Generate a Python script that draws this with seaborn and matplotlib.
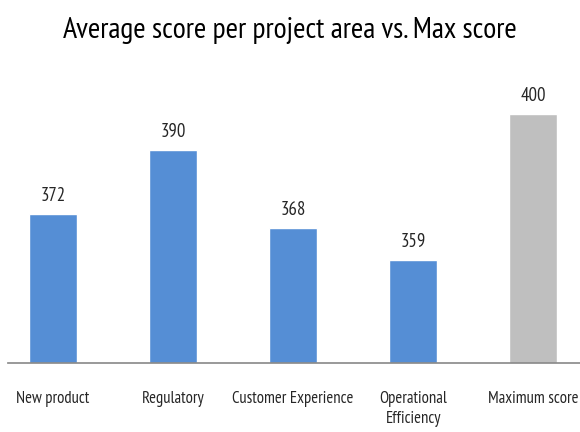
import matplotlib
matplotlib.use("Agg")
import matplotlib.pyplot as plt
from matplotlib import font_manager
import pandas as pd
import seaborn as sns

# --- данни ---
areas = ["New product", "Regulatory", "Customer Experience",
         "Operational\nEfficiency", "Maximum score"]
scores = [372, 390, 368, 359, 400]
bar_colors = ["#558ED5", "#558ED5", "#558ED5", "#558ED5", "#BFBFBF"]

sns.set_theme(style="white")
names = {f.name for f in font_manager.fontManager.ttflist}
wanted = ["PT Sans Narrow", "Sofia Sans Condensed", "Carlito", "DejaVu Sans"]
font = next(f for f in wanted if f in names or f == "DejaVu Sans")
plt.rcParams["font.family"] = [font, "DejaVu Sans"]

df = pd.DataFrame({"area": areas, "score": scores})

fig = plt.figure(figsize=(5.8, 4.32), dpi=100)
ax = fig.add_axes([8 / 580, 69 / 432, 572 / 580, 302 / 432])
sns.barplot(data=df, x="area", y="score", hue="area", palette=bar_colors,
            legend=False, width=0.4, ax=ax, saturation=1)

ax.set_ylim(330, 415)
ax.set_xlim(-0.375, 4.39)
ax.set_xlabel("")
ax.set_ylabel("")
ax.set_yticks([])
for side in ["top", "right", "left"]:
    ax.spines[side].set_visible(False)
ax.spines["bottom"].set_color("#8C8C8C")
ax.tick_params(axis="x", length=0, pad=20, labelsize=12, colors="#262626")
for lab in ax.get_xticklabels():
    lab.set_va("top")
    lab.set_linespacing(1.35)

for i, v in enumerate(scores):
    ax.annotate(str(v), (i, v), xytext=(0, 9.5), textcoords="offset points",
                ha="center", va="baseline", fontsize=13.5, color="#262626")

fig.text(0.5, 1 - 38 / 432, "Average score per project area vs. Max score",
         ha="center", va="baseline", fontsize=21.5, color="black")

fig.savefig("out.png", dpi=100)
